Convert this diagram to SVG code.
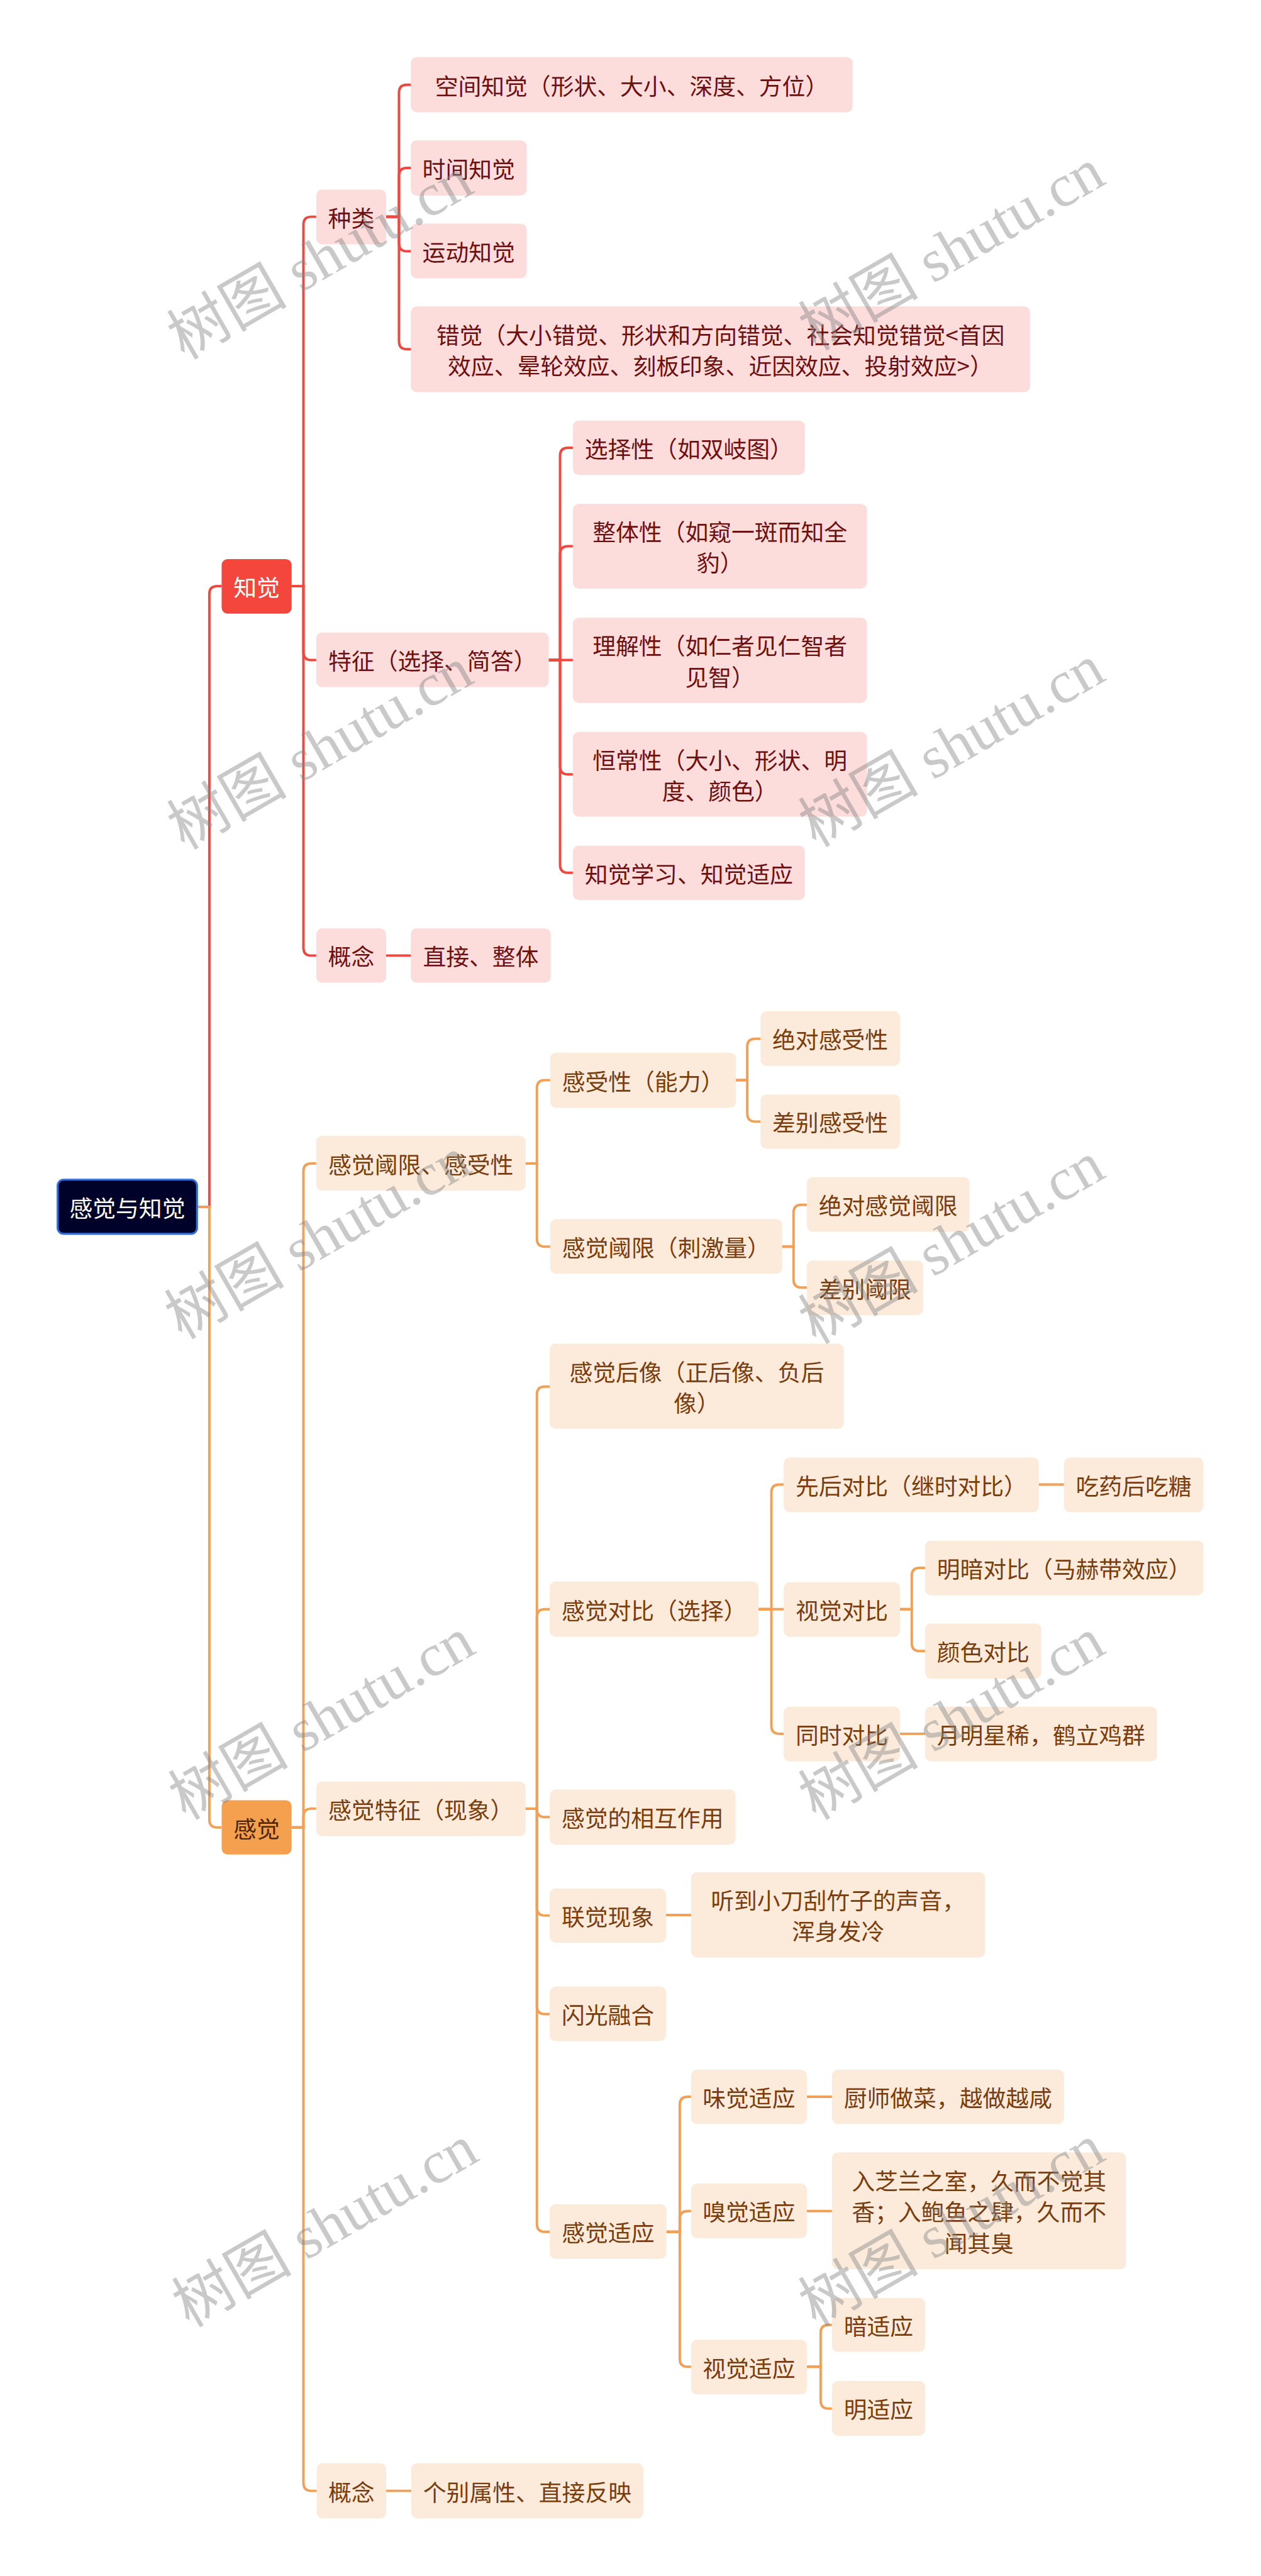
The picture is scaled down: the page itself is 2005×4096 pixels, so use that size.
<svg xmlns="http://www.w3.org/2000/svg" width="2005" height="4096" viewBox="0 0 2005 4096">
<style>
text{font-family:"Noto Sans CJK SC","Noto Sans",sans-serif;font-size:47px;text-anchor:middle;dominant-baseline:central}
.c1{fill:none;stroke:#f0473f;stroke-width:5}
.c2{fill:none;stroke:#f2a055;stroke-width:5}
.n1 rect{fill:#fddcdc}
.n1 text{fill:#6e1010}
.n2 rect{fill:#fcebdb}
.n2 text{fill:#7a3d0d}
.wm{font-family:"Liberation Serif","Noto Sans CJK SC",serif;font-size:122px;fill:#888;opacity:.45}
</style>
<rect width="2005" height="4096" fill="#fff"/>
<g transform="scale(0.7832)">
<g id="connectors">
<path class="c1" d="M400,2450 H425 V1206 Q425,1190 441,1190 H450"/>
<path class="c1" d="M592,1190 H616 V456 Q616,440 632,440 H642"/>
<path class="c1" d="M592,1190 H616 V1324 Q616,1340 632,1340 H642"/>
<path class="c1" d="M592,1190 H616 V1924 Q616,1940 632,1940 H642"/>
<path class="c1" d="M784,440 H810 V188 Q810,172 826,172 H834"/>
<path class="c1" d="M784,440 H810 V357 Q810,341 826,341 H834"/>
<path class="c1" d="M784,440 H810 V494 Q810,510 826,510 H834"/>
<path class="c1" d="M784,440 H810 V693 Q810,709 826,709 H834"/>
<path class="c1" d="M1114,1340 H1137 V925 Q1137,909 1153,909 H1163"/>
<path class="c1" d="M1114,1340 H1137 V1125 Q1137,1109 1153,1109 H1163"/>
<path class="c1" d="M1114,1340 H1163"/>
<path class="c1" d="M1114,1340 H1137 V1556 Q1137,1572 1153,1572 H1163"/>
<path class="c1" d="M1114,1340 H1137 V1756 Q1137,1772 1153,1772 H1163"/>
<path class="c1" d="M784,1940 H834"/>
<path class="c2" d="M400,2450 H425 V3694 Q425,3710 441,3710 H450"/>
<path class="c2" d="M592,3710 H616 V2378 Q616,2362 632,2362 H642"/>
<path class="c2" d="M592,3710 H616 V3688 Q616,3672 632,3672 H642"/>
<path class="c2" d="M592,3710 H616 V5041 Q616,5057 632,5057 H643"/>
<path class="c2" d="M1067,2362 H1090 V2209 Q1090,2193 1106,2193 H1117"/>
<path class="c2" d="M1067,2362 H1090 V2515 Q1090,2531 1106,2531 H1117"/>
<path class="c2" d="M1494,2193 H1517 V2125 Q1517,2109 1533,2109 H1544"/>
<path class="c2" d="M1494,2193 H1517 V2261 Q1517,2277 1533,2277 H1544"/>
<path class="c2" d="M1588,2531 H1611 V2462 Q1611,2446 1627,2446 H1638"/>
<path class="c2" d="M1588,2531 H1611 V2598 Q1611,2614 1627,2614 H1638"/>
<path class="c2" d="M1067,3672 H1090 V2831 Q1090,2815 1106,2815 H1116"/>
<path class="c2" d="M1067,3672 H1090 V3283 Q1090,3267 1106,3267 H1116"/>
<path class="c2" d="M1067,3672 H1090 V3673 Q1090,3689 1106,3689 H1116"/>
<path class="c2" d="M1067,3672 H1090 V3873 Q1090,3889 1106,3889 H1116"/>
<path class="c2" d="M1067,3672 H1090 V4073 Q1090,4089 1106,4089 H1116"/>
<path class="c2" d="M1067,3672 H1090 V4515 Q1090,4531 1106,4531 H1116"/>
<path class="c2" d="M1540,3267 H1566 V3030 Q1566,3014 1582,3014 H1591"/>
<path class="c2" d="M1540,3267 H1591"/>
<path class="c2" d="M1540,3267 H1566 V3504 Q1566,3520 1582,3520 H1591"/>
<path class="c2" d="M2109,3014 H2160"/>
<path class="c2" d="M1827,3267 H1851 V3199 Q1851,3183 1867,3183 H1878"/>
<path class="c2" d="M1827,3267 H1851 V3336 Q1851,3352 1867,3352 H1878"/>
<path class="c2" d="M1827,3520 H1878"/>
<path class="c2" d="M1352,3888 H1403"/>
<path class="c2" d="M1353,4531 H1380 V4273 Q1380,4257 1396,4257 H1403"/>
<path class="c2" d="M1353,4531 H1380 V4505 Q1380,4489 1396,4489 H1403"/>
<path class="c2" d="M1353,4531 H1380 V4789 Q1380,4805 1396,4805 H1403"/>
<path class="c2" d="M1638,4257 H1689"/>
<path class="c2" d="M1638,4489 H1689"/>
<path class="c2" d="M1638,4805 H1666 V4736 Q1666,4720 1682,4720 H1689"/>
<path class="c2" d="M1638,4805 H1666 V4874 Q1666,4890 1682,4890 H1689"/>
<path class="c2" d="M784,5057 H835"/>
</g>

<g id="root"><rect x="117" y="2395" width="283" height="110" rx="12" fill="#000229" stroke="#3470d8" stroke-width="4"/><text x="258.5" y="2450" fill="#fff">感觉与知觉</text></g>

<g id="zhijue"><rect x="450" y="1135" width="142" height="111" rx="12" fill="#f5463e"/><text x="521" y="1190.5" fill="#fff">知觉</text></g>
<g id="zhonglei" class="n1"><rect x="642" y="385" width="142" height="111" rx="12"/><text x="713" y="440.5">种类</text></g>
<g id="kongjian" class="n1"><rect x="834" y="116" width="897" height="112" rx="12"/><text x="1282.5" y="172">空间知觉（形状、大小、深度、方位）</text></g>
<g id="shijian" class="n1"><rect x="834" y="285" width="235" height="112" rx="12"/><text x="951.5" y="341">时间知觉</text></g>
<g id="yundong" class="n1"><rect x="834" y="454" width="235" height="111" rx="12"/><text x="951.5" y="509.5">运动知觉</text></g>
<g id="cuojue" class="n1"><rect x="834" y="622" width="1257" height="174" rx="12"/><text x="1462.5" y="677.5">错觉（大小错觉、形状和方向错觉、社会知觉错觉&lt;首因</text><text x="1462.5" y="740.5">效应、晕轮效应、刻板印象、近因效应、投射效应&gt;）</text></g>
<g id="tezheng" class="n1"><rect x="642" y="1284" width="472" height="111" rx="12"/><text x="878" y="1339.5">特征（选择、简答）</text></g>
<g id="xuanze" class="n1"><rect x="1163" y="854" width="471" height="110" rx="12"/><text x="1398.5" y="909">选择性（如双岐图）</text></g>
<g id="zhengti" class="n1"><rect x="1163" y="1023" width="597" height="172" rx="12"/><text x="1461.5" y="1077.5">整体性（如窥一斑而知全</text><text x="1461.5" y="1140.5">豹）</text></g>
<g id="lijie" class="n1"><rect x="1163" y="1254" width="597" height="173" rx="12"/><text x="1461.5" y="1309">理解性（如仁者见仁智者</text><text x="1461.5" y="1372">见智）</text></g>
<g id="hengchang" class="n1"><rect x="1163" y="1486" width="597" height="172" rx="12"/><text x="1461.5" y="1540.5">恒常性（大小、形状、明</text><text x="1461.5" y="1603.5">度、颜色）</text></g>
<g id="xuexi" class="n1"><rect x="1163" y="1717" width="471" height="110" rx="12"/><text x="1398.5" y="1772">知觉学习、知觉适应</text></g>
<g id="gainian1" class="n1"><rect x="642" y="1885" width="142" height="110" rx="12"/><text x="713" y="1940">概念</text></g>
<g id="zhijie" class="n1"><rect x="834" y="1885" width="284" height="110" rx="12"/><text x="976" y="1940">直接、整体</text></g>

<g id="ganjue"><rect x="450" y="3655" width="142" height="110" rx="12" fill="#f5a04e"/><text x="521" y="3710" fill="#4d2705">感觉</text></g>
<g id="yuxian" class="n2"><rect x="642" y="2306" width="425" height="111" rx="12"/><text x="854.5" y="2361.5">感觉阈限、感受性</text></g>
<g id="ganshou" class="n2"><rect x="1117" y="2137" width="377" height="112" rx="12"/><text x="1305.5" y="2193">感受性（能力）</text></g>
<g id="juedui1" class="n2"><rect x="1544" y="2053" width="283" height="111" rx="12"/><text x="1685.5" y="2108.5">绝对感受性</text></g>
<g id="chabie1" class="n2"><rect x="1544" y="2222" width="283" height="110" rx="12"/><text x="1685.5" y="2277">差别感受性</text></g>
<g id="cijiliang" class="n2"><rect x="1117" y="2475" width="471" height="111" rx="12"/><text x="1352.5" y="2530.5">感觉阈限（刺激量）</text></g>
<g id="juedui2" class="n2"><rect x="1638" y="2390" width="330" height="111" rx="12"/><text x="1803" y="2445.5">绝对感觉阈限</text></g>
<g id="chabie2" class="n2"><rect x="1638" y="2559" width="236" height="111" rx="12"/><text x="1756" y="2614.5">差别阈限</text></g>
<g id="tezheng2" class="n2"><rect x="642" y="3617" width="425" height="111" rx="12"/><text x="854.5" y="3672.5">感觉特征（现象）</text></g>
<g id="houxiang" class="n2"><rect x="1116" y="2728" width="597" height="173" rx="12"/><text x="1414.5" y="2783">感觉后像（正后像、负后</text><text x="1414.5" y="2846">像）</text></g>
<g id="duibi" class="n2"><rect x="1116" y="3211" width="424" height="112" rx="12"/><text x="1328" y="3267">感觉对比（选择）</text></g>
<g id="xianhou" class="n2"><rect x="1591" y="2959" width="518" height="111" rx="12"/><text x="1850" y="3014.5">先后对比（继时对比）</text></g>
<g id="chiyao" class="n2"><rect x="2160" y="2959" width="283" height="111" rx="12"/><text x="2301.5" y="3014.5">吃药后吃糖</text></g>
<g id="shijue" class="n2"><rect x="1591" y="3212" width="236" height="111" rx="12"/><text x="1709" y="3267.5">视觉对比</text></g>
<g id="mingan" class="n2"><rect x="1878" y="3128" width="565" height="111" rx="12"/><text x="2160.5" y="3183.5">明暗对比（马赫带效应）</text></g>
<g id="yanse" class="n2"><rect x="1878" y="3296" width="236" height="112" rx="12"/><text x="1996" y="3352">颜色对比</text></g>
<g id="tongshi" class="n2"><rect x="1591" y="3465" width="236" height="111" rx="12"/><text x="1709" y="3520.5">同时对比</text></g>
<g id="yueming" class="n2"><rect x="1878" y="3465" width="471" height="111" rx="12"/><text x="2113.5" y="3520.5">月明星稀，鹤立鸡群</text></g>
<g id="xianghu" class="n2"><rect x="1116" y="3633" width="377" height="112" rx="12"/><text x="1304.5" y="3689">感觉的相互作用</text></g>
<g id="lianjue" class="n2"><rect x="1116" y="3834" width="236" height="110" rx="12"/><text x="1234" y="3889">联觉现象</text></g>
<g id="tingdao" class="n2"><rect x="1403" y="3801" width="597" height="173" rx="12"/><text x="1701.5" y="3856">听到小刀刮竹子的声音，</text><text x="1701.5" y="3919">浑身发冷</text></g>
<g id="shanguang" class="n2"><rect x="1116" y="4033" width="236" height="111" rx="12"/><text x="1234" y="4088.5">闪光融合</text></g>
<g id="shiying" class="n2"><rect x="1116" y="4475" width="237" height="111" rx="12"/><text x="1234.5" y="4530.5">感觉适应</text></g>
<g id="weijue" class="n2"><rect x="1403" y="4202" width="235" height="110" rx="12"/><text x="1520.5" y="4257">味觉适应</text></g>
<g id="chushi" class="n2"><rect x="1689" y="4202" width="471" height="110" rx="12"/><text x="1924.5" y="4257">厨师做菜，越做越咸</text></g>
<g id="xiujue" class="n2"><rect x="1403" y="4433" width="235" height="111" rx="12"/><text x="1520.5" y="4488.5">嗅觉适应</text></g>
<g id="zhilan" class="n2"><rect x="1689" y="4370" width="597" height="237" rx="12"/><text x="1987.5" y="4425.5">入芝兰之室，久而不觉其</text><text x="1987.5" y="4488.5">香；入鲍鱼之肆，久而不</text><text x="1987.5" y="4551.5">闻其臭</text></g>
<g id="shijueshiying" class="n2"><rect x="1403" y="4750" width="235" height="111" rx="12"/><text x="1520.5" y="4805.5">视觉适应</text></g>
<g id="an" class="n2"><rect x="1689" y="4665" width="189" height="110" rx="12"/><text x="1783.5" y="4720">暗适应</text></g>
<g id="ming" class="n2"><rect x="1689" y="4834" width="189" height="111" rx="12"/><text x="1783.5" y="4889.5">明适应</text></g>
<g id="gainian2" class="n2"><rect x="643" y="5001" width="141" height="112" rx="12"/><text x="713.5" y="5057">概念</text></g>
<g id="gebie" class="n2"><rect x="835" y="5001" width="471" height="112" rx="12"/><text x="1070.5" y="5057">个别属性、直接反映</text></g>

<g id="watermarks">
<text class="wm" transform="translate(650,525) rotate(-30)">树图 shutu.cn</text>
<text class="wm" transform="translate(1932,507) rotate(-30)">树图 shutu.cn</text>
<text class="wm" transform="translate(650,1520) rotate(-30)">树图 shutu.cn</text>
<text class="wm" transform="translate(1932,1515) rotate(-30)">树图 shutu.cn</text>
<text class="wm" transform="translate(645,2514) rotate(-30)">树图 shutu.cn</text>
<text class="wm" transform="translate(1932,2524) rotate(-30)">树图 shutu.cn</text>
<text class="wm" transform="translate(653,3490) rotate(-30)">树图 shutu.cn</text>
<text class="wm" transform="translate(1932,3490) rotate(-30)">树图 shutu.cn</text>
<text class="wm" transform="translate(660,4520) rotate(-30)">树图 shutu.cn</text>
<text class="wm" transform="translate(1932,4519) rotate(-30)">树图 shutu.cn</text>
</g>
</g>
</svg>
